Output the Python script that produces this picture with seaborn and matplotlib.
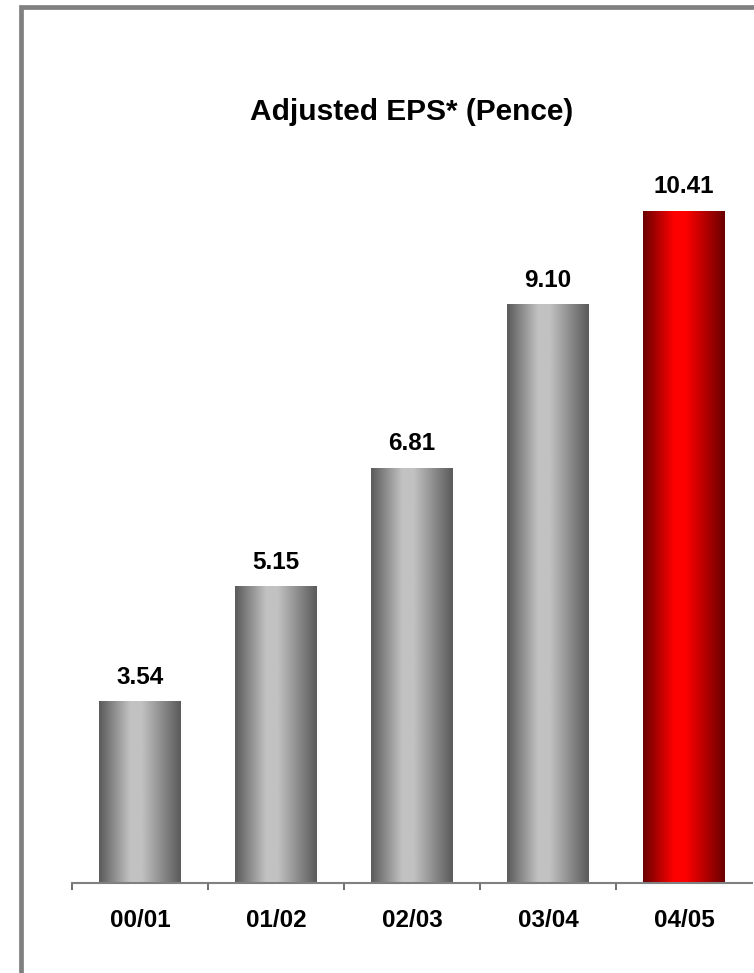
import numpy as np
import matplotlib
matplotlib.use("Agg")
import matplotlib.pyplot as plt
from matplotlib.colors import to_rgb
from matplotlib.patches import Rectangle
import seaborn as sns

# Adjusted earnings per share by financial year
periods = ["00/01", "01/02", "02/03", "03/04", "04/05"]
eps = [3.54, 5.15, 6.81, 9.10, 10.41]
# (edge colour, centre colour) of each bar's shading
bar_shades = [("#5a5a5a", "#c2c2c2")] * 4 + [("#6a0000", "#ff0000")]

sns.set_theme(style="white")
plt.rcParams["font.family"] = ["Liberation Sans", "DejaVu Sans"]

W, H = 754, 973
fig = plt.figure(figsize=(W / 100, H / 100), dpi=100)
ax = fig.add_axes([72 / W, (H - 883) / H, 680 / W, 785 / H])

sns.barplot(x=periods, y=eps, ax=ax, width=0.6, color="#999999",
            saturation=1, edgecolor="none", zorder=2)
ax.set_xlim(-0.5, 4.5)
ymin, ymax = 1, 12
ax.set_ylim(ymin, ymax)


def shade(edge, centre, n=256):
    """Horizontal gradient: dark at both sides, light slightly left of middle."""
    t = np.linspace(0, 1, n)
    e, c = np.array(to_rgb(edge)), np.array(to_rgb(centre))
    k = np.interp(t, [0, 0.38, 0.52, 1], [0, 1, 1, 0])
    return (e[None, :] * (1 - k[:, None]) + c[None, :] * k[:, None])[None, :, :]


for patch, (edge, centre) in zip(ax.patches, bar_shades):
    x0, w, h = patch.get_x(), patch.get_width(), patch.get_height()
    ax.imshow(shade(edge, centre), extent=[x0, x0 + w, ymin, h],
              aspect="auto", interpolation="bilinear", zorder=3)
    patch.set_alpha(0)

for i, v in enumerate(eps):
    ax.annotate(f"{v:.2f}", (i, v), xytext=(0, 13), textcoords="offset points",
                ha="center", va="baseline", fontsize=17.5, fontweight="bold",
                color="black")

# axis styling: only the baseline with separators between categories
for side in ("left", "top", "right"):
    ax.spines[side].set_visible(False)
ax.spines["bottom"].set_color("#808080")
ax.spines["bottom"].set_linewidth(1.5)
ax.spines["bottom"].set_zorder(4)
ax.set_yticks([])
ax.set_xticks(range(len(periods)))
ax.set_xticklabels(periods, fontsize=17.5, fontweight="bold", color="black")
ax.set_xticks(np.arange(-0.5, len(periods) - 0.5, 1.0), minor=True)
ax.tick_params(axis="x", which="major", length=0, pad=19)
ax.tick_params(axis="x", which="minor", bottom=True, length=5, width=1.2,
               color="#555555", direction="out")
ax.set_xlabel("")
ax.set_ylabel("")

fig.text(412 / W, 1 - 120 / H, "Adjusted EPS* (Pence)", ha="center",
         va="baseline", fontsize=21.5, fontweight="bold", color="black")

# grey frame along the top and left edges of the panel
fig.add_artist(Rectangle((21 / W, -0.1), 1.2, (H - 7.5) / H + 0.1,
                         transform=fig.transFigure, fill=False,
                         edgecolor="#808080", linewidth=3.4, zorder=10))

fig.savefig("out.png", dpi=100)
